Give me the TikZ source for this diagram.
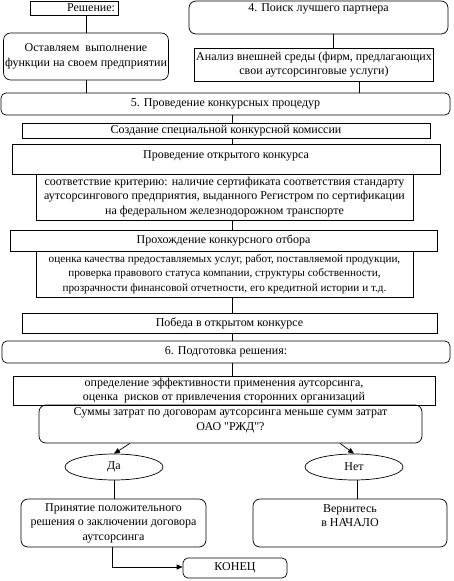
\documentclass[tikz,border=0pt]{standalone}
\usepackage{fontspec}
\setmainfont{Liberation Serif}[Ligatures=TeXOff]
\usetikzlibrary{arrows.meta,positioning,shapes.geometric}

\begin{document}
\begin{tikzpicture}[x=1pt, y=-1pt, font=\fontsize{12}{14.5}\selectfont,
    >={Triangle[length=6pt,width=5pt]},
    box/.style={draw, line width=0.7pt, inner sep=1.5pt, align=center},
    rbox/.style={box, rounded corners=7pt},
    oval/.style={draw, line width=0.7pt, ellipse, inner sep=0pt},
    link/.style={line width=0.7pt}]
  \fill[white] (0,0) rectangle (453,581);
  \useasboundingbox (0,0) rectangle (453,581);
  \coordinate (mid) at (232,0);
  % top
  \node[box, minimum width=88, minimum height=14, text width=82, align=right] (res) at (74,8) {Решение:};
  \node[rbox, minimum width=259, minimum height=33, text height=9pt, text depth=21pt] (poisk) at (318.5,17.5) {4. Поиск лучшего партнера};
  \node[rbox, minimum width=162, minimum height=47] (ost) at (86,56.5) {Оставляем\ \ выполнение\\функции на своем предприятии};
  \node[box, minimum width=238, minimum height=33] (anal) at (314,64.5) {Анализ внешней среды (фирм, предлагающих\\свои аутсорсинговые услуги)};
  \node[rbox, rounded corners=5pt, minimum width=449, minimum height=22] (p5) at (225.5,104) {5. Проведение конкурсных процедур};
  % contest
  \node[box, minimum width=408, minimum height=15] (sozd) at (226,130.5) {Создание специальной конкурсной комиссии};
  \node[box, minimum width=428, minimum height=30, text height=9pt, text depth=11pt] (otkr) at (226,159) {Проведение открытого конкурса};
  \node[box, minimum width=377, minimum height=46] (sootv) at (224.5,197) {соответствие критерию: наличие сертификата соответствия стандарту\\аутсорсингового предприятия, выданного Регистром по сертификации\\на федеральном железнодорожном транспорте};
  \node[box, minimum width=427, minimum height=21] (proh) at (223.5,240.5) {Прохождение конкурсного отбора};
  \node[box, minimum width=377, minimum height=46, font=\fontsize{11.2}{14.5}\selectfont] (ocen) at (224.5,274) {оценка качества предоставляемых услуг, работ, поставляемой продукции,\\проверка правового статуса компании, структуры собственности,\\прозрачности финансовой отчетности, его кредитной истории и т.д.};
  \node[box, minimum width=415, minimum height=20] (pob) at (229.5,323) {Победа в открытом конкурсе};
  \node[rbox, rounded corners=5pt, minimum width=448, minimum height=22] (p6) at (226,352) {6. Подготовка решения:};
  \node[box, minimum width=422, minimum height=29, inner sep=1pt] (opr) at (224,390.5) {определение эффективности применения аутсорсинга,\\оценка\ \ рисков от привлечения сторонних организаций};
  % decision
  \node[rbox, minimum width=383, minimum height=38] (summ) at (230.5,424) {Суммы затрат по договорам аутсорсинга меньше сумм затрат\\ОАО "РЖД"?\\[-5pt]\mbox{}};
  \node[oval, minimum width=98, minimum height=26] (da) at (114,467) {Да};
  \node[oval, minimum width=98, minimum height=26] (net) at (354,467) {Нет};
  \node[rbox, minimum width=185, minimum height=48] (prin) at (113.5,523) {Принятие положительного\\решения о заключении договора\\аутсорсинга};
  \node[rbox, minimum width=194, minimum height=48] (vern) at (350,523) {Вернитесь\\в НАЧАЛО\\\mbox{}};
  \node[rbox, rounded corners=5pt, minimum width=104, minimum height=20] (kon) at (235,568) {КОНЕЦ};
  % links
  \draw[link] (ost.north) -- (ost.north |- res.south);
  \draw[link] ([xshift=14.5pt]poisk.south) -- ([xshift=14.5pt]poisk.south |- anal.north);
  \draw[link] (ost.south) -- (ost.south |- p5.north);
  \draw[link] ([xshift=45pt]anal.south) -- ([xshift=45pt]anal.south |- p5.north);
  \draw[link] (p5.south -| mid) -- (sozd.north -| mid);
  \draw[link] (sozd.south -| mid) -- (otkr.north -| mid);
  \draw[link] (sootv.south -| mid) -- (proh.north -| mid);
  \draw[link] (ocen.south -| mid) -- (pob.north -| mid);
  \draw[link] (pob.south -| mid) -- (p6.north -| mid);
  \draw[link] (p6.south -| mid) -- (opr.north -| mid);
  \draw[link, ->] ([xshift=-100.5pt]summ.south) -- (da.north);
  \draw[link, ->] ([xshift=109.5pt]summ.south) -- (net.north);
  \draw[link] (da.south) -- (da.south |- prin.north);
  \draw[link] ([xshift=3pt]net.south) -- ([xshift=3pt]net.south |- vern.north);
  \draw[link, ->] ([xshift=-1.5pt]prin.south) |- ([yshift=1pt]kon.west);
\end{tikzpicture}
\end{document}
